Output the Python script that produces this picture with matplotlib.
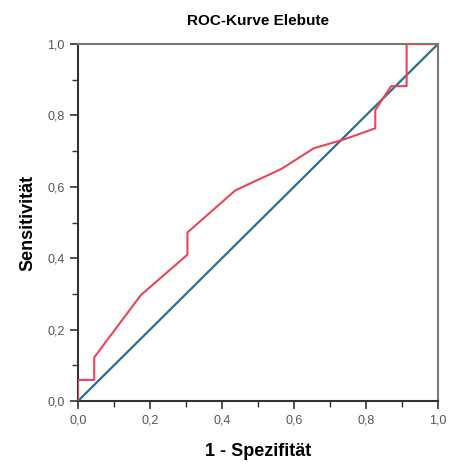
import matplotlib
matplotlib.use("Agg")
import matplotlib.pyplot as plt
from matplotlib.ticker import MultipleLocator, FuncFormatter

plt.rcParams['font.family'] = ['Liberation Sans', 'DejaVu Sans']

# ROC curve vertices (1 - specificity, sensitivity)
fpr = [0.0, 0.0, 0.045, 0.045, 0.174, 0.304, 0.304, 0.437, 0.565, 0.655, 0.740,
       0.826, 0.826, 0.870, 0.913, 0.913, 1.0]
tpr = [0.0, 0.059, 0.059, 0.122, 0.296, 0.410, 0.472, 0.590, 0.650, 0.708, 0.733,
       0.764, 0.815, 0.882, 0.882, 1.0, 1.0]
ref_x = [0.0, 1.0]
ref_y = [0.0, 1.0]

fig = plt.figure(figsize=(4.51, 4.66), dpi=100)
ax = fig.add_axes([0.173, 0.1395, 0.798, 0.766])

ax.plot(ref_x, ref_y, color='#2a6f8c', lw=1.6, zorder=2)
ax.plot(fpr, tpr, color='#e8455a', lw=1.5, zorder=3)

ax.set_xlim(0, 1)
ax.set_ylim(0, 1)
ax.xaxis.set_major_locator(MultipleLocator(0.2))
ax.yaxis.set_major_locator(MultipleLocator(0.2))
ax.xaxis.set_minor_locator(MultipleLocator(0.1))
ax.yaxis.set_minor_locator(MultipleLocator(0.1))
fmt = FuncFormatter(lambda v, p: f"{v:.1f}".replace('.', ','))
ax.xaxis.set_major_formatter(fmt)
ax.yaxis.set_major_formatter(fmt)
ax.tick_params(which='major', direction='out', length=6, width=1.2,
               colors='#333333', labelsize=9, labelcolor='#555555')
ax.tick_params(which='minor', direction='out', length=4, width=1.0, colors='#333333')

for side, s in ax.spines.items():
    s.set_color('#333333' if side in ('left', 'bottom') else '#777777')
    s.set_linewidth(1.5)

ax.set_title('ROC-Kurve Elebute', fontsize=11, fontweight='bold', pad=14)
ax.set_xlabel('1 - Spezifität', fontsize=13, fontweight='bold', labelpad=12)
ax.set_ylabel('Sensitivität', fontsize=13, fontweight='bold', labelpad=8)

fig.savefig('out.png', dpi=100)
